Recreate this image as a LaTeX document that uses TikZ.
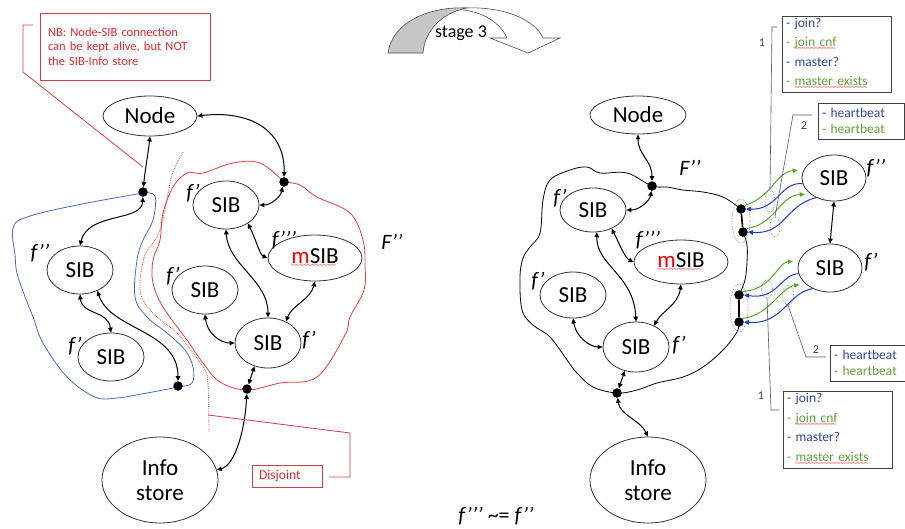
\documentclass[tikz,border=0pt]{standalone}
\usepackage{fontspec}
\setmainfont{Carlito}
\newfontfamily\wavefont{DejaVu Sans}
\usetikzlibrary{arrows.meta,shapes.geometric}
\definecolor{noteline}{RGB}{215,60,70}
\definecolor{notetext}{RGB}{225,40,45}
\definecolor{msgblue}{RGB}{45,70,160}
\definecolor{msggreen}{RGB}{95,160,55}
\definecolor{linkblue}{RGB}{30,60,210}
\definecolor{linkgreen}{RGB}{80,170,40}
\definecolor{hullblue}{RGB}{70,105,200}
\definecolor{hullred}{RGB}{230,60,60}
\newcommand\redwave[1]{\setbox0\hbox{#1}\rlap{\raisebox{-4pt}{\color{red}\wavefont\fontsize{6.5}{6.5}\selectfont
  \leaders\hbox{\kern-0.7pt\char"223C\kern-0.7pt}\hskip\wd0}}#1}
\begin{document}
\begin{tikzpicture}[x=1pt,y=-1pt,
  blob/.style={ellipse, draw=black!80, line width=0.8pt, inner sep=0pt, align=center, font=\fontsize{23}{25}\selectfont},
  junction/.style={circle, fill=black, inner sep=0pt, minimum size=9.5pt},
  link/.style={line width=1pt, {Triangle[length=5pt,width=4.5pt]}-{Triangle[length=5pt,width=4.5pt]}},
  flabel/.style={font=\fontsize{22}{24}\selectfont\itshape},
  note/.style={draw=noteline, line width=0.8pt, text=notetext, align=left, font=\fontsize{12.5}{14.5}\selectfont},
  msgbox/.style={draw=black!75, line width=0.8pt, align=left, inner sep=0pt, font=\fontsize{13.5}{19.5}\selectfont},
  leader/.style={draw=black!65, line width=0.6pt},
  ring/.style={ellipse, draw=black!55, densely dotted, line width=0.6pt, inner sep=0pt},
  tomsg/.style={line width=1pt, -{Triangle[length=5pt,width=4.5pt]}}]
\useasboundingbox (0,0) rectangle (905,528);

% stage arrow
\filldraw[fill=gray!45, draw=black!70, line width=0.6pt] (388,53) .. controls (392,22) and (430,6) .. (467,8)
  .. controls (445,12) and (425,28) .. (423,53) -- cycle;
\draw[black!70, line width=0.6pt] (463,8) .. controls (505,6) and (535,20) .. (543,38) -- (560,38) -- (528,53)
  -- (490,38) -- (507,38) .. controls (500,22) and (482,12) .. (463,10);
\node (stage) at (461,33) {\fontsize{18}{20}\selectfont stage 3};

%%% left picture
% hulls
\draw[hullblue, line width=0.8pt] plot[smooth, tension=0.6] coordinates {(143,193) (155,196) (153,220) (143,240)
  (137,260) (135,297) (147,317) (167,333) (185,350) (193,367) (192,383) (178,387) (147,393) (117,398) (95,397)
  (67,377) (43,343) (33,317) (18,277) (15,255) (13,228) (27,217) (77,205) (143,193)};
\draw[hullred, line width=0.8pt] plot[smooth, tension=0.6] coordinates {(284,182) (300,185) (317,197) (350,213)
  (363,240) (365,265) (364,290) (350,317) (345,335) (317,377) (280,383) (247,390) (220,382) (203,363) (187,340)
  (163,307) (153,283) (153,260) (160,240) (163,213) (173,187) (187,173) (203,173) (233,163) (260,163) (284,182)};
\draw[hullred, densely dotted, line width=0.8pt] plot[smooth, tension=0.6] coordinates {(183,152) (172,175)
  (165,210) (158,235) (145,255) (140,283) (143,300) (157,317) (177,333) (193,353) (205,370) (208,385) (209,433)};

\node[blob, minimum width=94pt, minimum height=40pt] (nodeL) at (150,116) {Node};
\node[blob, minimum width=66pt, minimum height=48pt] (sibA) at (226,205) {SIB};
\node[blob, minimum width=94pt, minimum height=46pt] (msibL) at (315,258) {\redwave{{\color{red}m}SIB}};
\node[blob, minimum width=66pt, minimum height=48pt] (sibB) at (80,270) {SIB};
\node[blob, minimum width=66pt, minimum height=48pt] (sibC) at (111,357) {SIB};
\node[blob, minimum width=66pt, minimum height=48pt] (sibD) at (205,290) {SIB};
\node[blob, minimum width=66pt, minimum height=50pt] (sibE) at (268,343) {SIB};
\node[blob, minimum width=116pt, minimum height=86pt] (infoL) at (160,480) {Info\\store};
\node[junction] (dotA) at (143,192) {};
\node[junction] (dotB) at (284,182) {};
\node[junction] (dotC) at (178,386) {};
\node[junction] (dotD) at (247,389) {};

% links
\draw[link] (nodeL.south) .. controls (148,155) and (145,170) .. (dotA);
\draw[link] (nodeL.east) .. controls (250,110) and (285,130) .. (dotB);
\draw[link] (dotA) .. controls (142,222) and (88,212) .. (sibB.north);
\draw[link] (sibB.south) .. controls (82,315) and (108,310) .. (sibC.north);
\draw[link] (sibB.-50) .. controls (110,330) and (178,330) .. (dotC);
\draw[link] (dotB) .. controls (280,198) and (270,205) .. (sibA.east);
\draw[link] (sibA.south) .. controls (228,265) and (268,280) .. (sibE.north);
\draw[link] (sibA.-40) .. controls (256,240) and (260,255) .. (msibL.west);
\draw[link] (msibL.south) .. controls (310,300) and (292,305) .. (sibE.50);
\draw[link] (sibD.south) .. controls (207,333) and (220,343) .. (sibE.west);
\draw[link] (sibE.-120) -- (dotD);
\draw[link] (dotD) .. controls (245,430) and (235,465) .. (infoL.10);

% labels
\node[flabel] (lblB) at (40,253) {f’’};
\node[flabel] (lblC) at (75,346) {f’};
\node[flabel] (lblA) at (193,193) {f’};
\node[flabel] (lblD) at (173,276) {f’};
\node[flabel] (lblE) at (309,340) {f’};
\node[flabel] (lblM) at (284,240) {f’’’};
\node[flabel] (lblF) at (392,242) {F’’};

% notes
\node[note, minimum width=170pt, minimum height=67pt, text width=154pt] (nbNote) at (125,46.5)
  {NB: Node-SIB connection\\can be kept alive, but NOT\\the SIB-Info store};
\coordinate (nbHook) at (33,25);
\coordinate (nbTip) at (143,167);
\draw[noteline, line width=0.8pt] (nbHook) -- (23,25) -- (23,72) -- (nbTip);
\node[note, minimum width=70pt, minimum height=22pt, text width=56pt, font=\fontsize{13.5}{15}\selectfont] (disjoint) at (287,476) {Disjoint};
\coordinate (cutPoint) at (208,415);
\coordinate (cutHook) at (329,477);
\draw[noteline, line width=0.8pt] (cutPoint) -- (350,433) -- (350,477) -- (cutHook);

%%% right picture
\draw[line width=0.8pt] plot[smooth, tension=0.6] coordinates {(741,209) (723,197) (703,192) (683,190) (667,187)
  (652,186) (627,173) (600,173) (587,167) (570,170) (550,180) (543,200) (540,233) (530,247) (523,258) (520,277)
  (522,310) (533,325) (550,337) (567,360) (577,373) (593,387) (617,393) (637,390) (657,383) (683,377) (703,367)
  (723,350) (737,332) (739,322)};
\draw[line width=0.8pt] plot[smooth, tension=0.6] coordinates {(743,232) (747,245) (747,262) (745,280) (739,295)};

\node[blob, minimum width=96pt, minimum height=38pt] (nodeR) at (638,115) {Node};
\node[blob, minimum width=66pt, minimum height=44pt] (sibRA) at (593,210) {SIB};
\node[blob, minimum width=94pt, minimum height=44pt] (msibR) at (681,262) {\redwave{{\color{red}m}SIB}};
\node[blob, minimum width=66pt, minimum height=46pt] (sibRB) at (573,295) {SIB};
\node[blob, minimum width=66pt, minimum height=50pt] (sibRC) at (636,347) {SIB};
\node[blob, minimum width=116pt, minimum height=86pt] (infoR) at (648,480) {Info\\store};
\node[blob, minimum width=64pt, minimum height=46pt] (sibX) at (834,178) {SIB};
\node[blob, minimum width=64pt, minimum height=48pt] (sibY) at (830,268) {SIB};
\node[junction] (dotR) at (652,186) {};
\node[junction] (dotRB) at (617,393) {};
\node[junction] (dot1) at (741,209) {};
\node[junction] (dot2) at (743,232) {};
\node[junction] (dot3) at (739,295) {};
\node[junction] (dot4) at (739,322) {};
\draw[line width=1.6pt] (dot1) -- (dot2);
\draw[line width=1.6pt] (dot3) -- (dot4);

\draw[link] (nodeR.south) .. controls (638,155) and (652,160) .. (dotR);
\draw[link] (dotR) .. controls (650,200) and (640,210) .. (sibRA.east);
\draw[link] (sibRA.-80) .. controls (596,265) and (634,275) .. (sibRC.north);
\draw[link] (sibRA.-45) .. controls (620,245) and (625,258) .. (msibR.west);
\draw[link] (msibR.south) .. controls (678,305) and (663,310) .. (sibRC.50);
\draw[link] (sibRB.south) .. controls (576,337) and (590,347) .. (sibRC.west);
\draw[link] (sibRC.-115) -- (dotRB);
\draw[link] (dotRB) .. controls (620,415) and (640,420) .. (infoR.north);
\draw[link] (sibX.south) -- (sibY.north);

% messages
\draw[tomsg, linkgreen, shorten >=6pt] (dot1.north east) .. controls (772,197) and (776,172) .. (sibX.165);
\draw[tomsg, linkblue] (sibX.190) .. controls (780,182) and (778,210) .. (dot1.east);
\draw[tomsg, linkgreen, shorten >=6pt] (dot2.north east) .. controls (775,225) and (780,195) .. (sibX.215);
\draw[tomsg, linkblue] (sibX.228) .. controls (785,205) and (785,235) .. (dot2.east);
\draw[tomsg, linkgreen, shorten >=6pt] (dot3.north east) .. controls (772,290) and (778,262) .. (sibY.168);
\draw[tomsg, linkblue] (sibY.190) .. controls (780,275) and (778,300) .. (dot3.east);
\draw[tomsg, linkgreen, shorten >=6pt] (dot4.north east) .. controls (770,315) and (780,288) .. (sibY.212);
\draw[tomsg, linkblue] (sibY.230) .. controls (788,292) and (783,325) .. (dot4.east);

% rings
\node[ring, minimum width=18pt, minimum height=44pt] (pairTop) at (741,221) {};
\node[ring, minimum width=18pt, minimum height=48pt] (pairBot) at (739,308) {};
\node[ring, minimum width=10pt, minimum height=22pt] (ringA) at (770,201) {};
\node[ring, minimum width=10pt, minimum height=20pt] (ringB) at (775,227) {};
\node[ring, minimum width=11pt, minimum height=18pt] (ringC) at (767,289) {};
\node[ring, minimum width=11pt, minimum height=20pt] (ringD) at (788,295) {};

% callouts
\coordinate (hookA) at (777,27);
\coordinate (hookB) at (812,115);
\coordinate (hookC) at (779,410);
\coordinate (hookD) at (826,357);
\draw[leader] (ringA.north) -- (772,27) -- (hookA);
\draw[leader] (ringB.north) -- (793,115) -- (hookB);
\draw[leader] (ringC.south) -- (771,410) -- (hookC);
\draw[leader] (ringD.south) -- (806,357) -- (hookD);
\node[font=\fontsize{12}{12}\selectfont, text=black!75] (numA) at (762,43) {1};
\node[font=\fontsize{12}{12}\selectfont, text=black!75] (numB) at (804,126) {2};
\node[font=\fontsize{12}{12}\selectfont, text=black!75] (numC) at (761,396) {1};
\node[font=\fontsize{12}{12}\selectfont, text=black!75] (numD) at (816,350) {2};

\node[msgbox, minimum width=109pt, minimum height=76pt, text width=101pt] (boxA) at (836.5,54)
  {\color{msgblue}- join?\\\color{msggreen}- \redwave{join cnf}\\\color{msgblue}- master?\\\color{msggreen}- \redwave{master exists}};
\node[msgbox, minimum width=86pt, minimum height=36pt, text width=78pt, font=\fontsize{13.5}{16}\selectfont] (boxB) at (861,121)
  {\color{msgblue}- heartbeat\\\color{msggreen}- heartbeat};
\node[msgbox, minimum width=78pt, minimum height=36pt, text width=70pt, font=\fontsize{13.5}{16}\selectfont] (boxD) at (869,363)
  {\color{msgblue}- heartbeat\\\color{msggreen}- heartbeat};
\node[msgbox, minimum width=109pt, minimum height=77pt, text width=101pt] (boxC) at (837.5,429.5)
  {\color{msgblue}- join?\\\color{msggreen}- \redwave{join cnf}\\\color{msgblue}- master?\\\color{msggreen}- \redwave{master exists}};

\node[flabel] (lblRA) at (560,198) {f’};
\node[flabel] (lblRM) at (648,240) {f’’’};
\node[flabel] (lblRB) at (538,281) {f’};
\node[flabel] (lblRC) at (679,345) {f’};
\node[flabel] (lblRF) at (690,168) {F’’};
\node[flabel] (lblX) at (876,168) {f’’};
\node[flabel] (lblY) at (871,262) {f’};
\node[font=\fontsize{22}{24}\selectfont] (rule) at (496,516) {\textit{f’’’} \textasciitilde= \textit{f’’}};
\end{tikzpicture}
\end{document}
